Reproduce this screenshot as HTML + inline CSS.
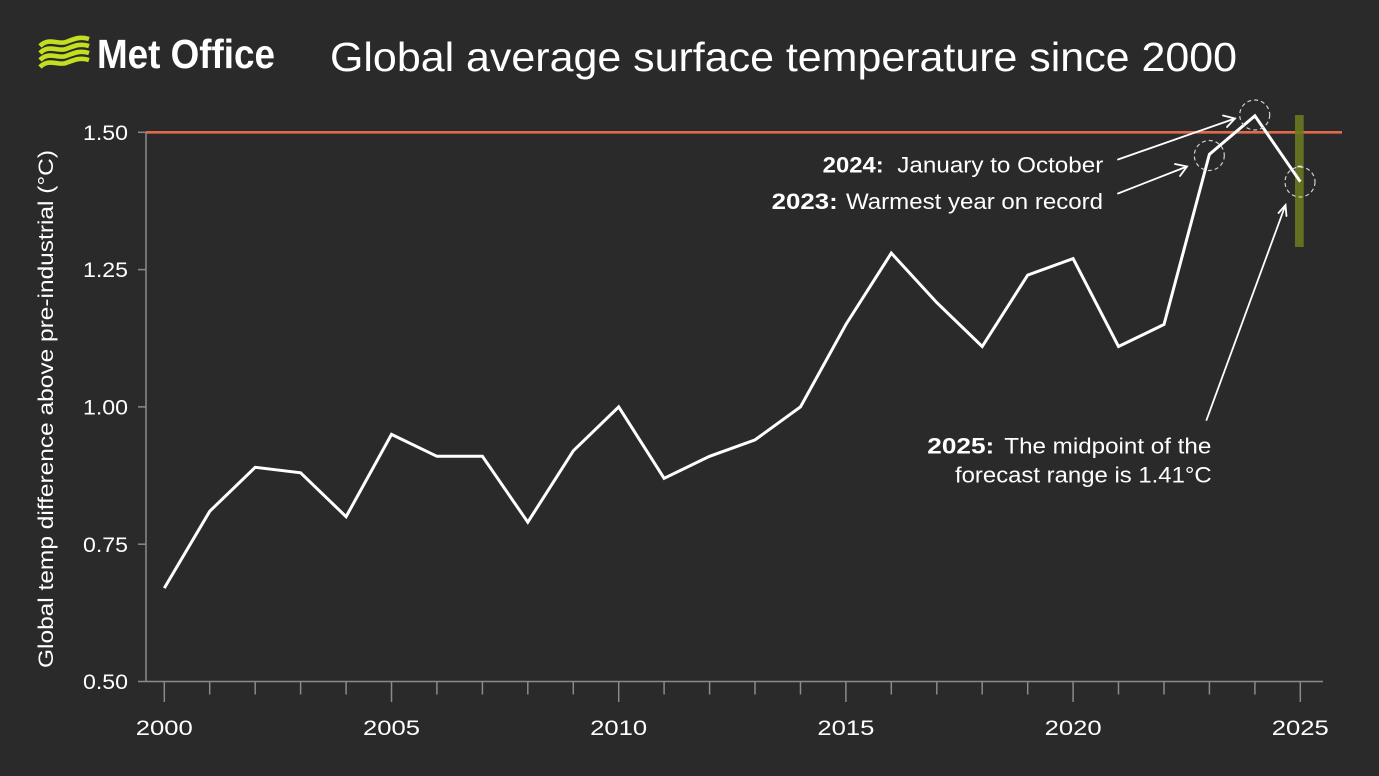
<!DOCTYPE html>
<html><head><meta charset="utf-8"><style>
html,body{margin:0;padding:0;background:#2a2a2a;}
svg{display:block;}
text{font-family:"Liberation Sans","DejaVu Sans",sans-serif;fill:#ffffff;}
</style></head><body>
<svg width="1379" height="776" viewBox="0 0 1379 776" xmlns="http://www.w3.org/2000/svg">
<rect x="0" y="0" width="1379" height="776" fill="#2a2a2a"/>

<!-- Logo icon -->
<g fill="none" stroke="#c4df1f" stroke-width="4.6" stroke-linecap="butt">
<path d="M40,46 C49,37 58,45 66,42 C74,39 80,36 89,39"/>
<path d="M40,53 C49,44 58,52 66,49 C74,46 80,43 89,46"/>
<path d="M40,60 C49,51 58,59 66,56 C74,53 80,50 89,53"/>
<path d="M40,67 C49,58 58,66 66,63 C74,60 80,57 89,60"/>
</g>
<text x="97" y="68" font-size="41" font-weight="bold" textLength="178" lengthAdjust="spacingAndGlyphs">Met Office</text>

<!-- Title -->
<text x="330" y="71" font-size="41" textLength="907" lengthAdjust="spacingAndGlyphs" fill="#ececec">Global average surface temperature since 2000</text>

<!-- Y axis label -->
<text transform="translate(53,409) rotate(-90)" text-anchor="middle" font-size="21" textLength="518" lengthAdjust="spacingAndGlyphs" fill="#e8e8e8">Global temp difference above pre-industrial (°C)</text>

<!-- Axes -->
<g stroke="#8a8a8a" stroke-width="1.5">
<line x1="146" y1="132" x2="146" y2="681.5"/>
<line x1="138" y1="681.5" x2="1323" y2="681.5"/>
<line x1="138" y1="132.3" x2="146" y2="132.3"/>
<line x1="138" y1="269.6" x2="146" y2="269.6"/>
<line x1="138" y1="406.9" x2="146" y2="406.9"/>
<line x1="138" y1="544.2" x2="146" y2="544.2"/>
</g>
<g stroke="#8a8a8a" stroke-width="1.5">
<line x1="164.3" y1="681.5" x2="164.3" y2="702"/>
<line x1="209.7" y1="681.5" x2="209.7" y2="694.5"/>
<line x1="255.2" y1="681.5" x2="255.2" y2="694.5"/>
<line x1="300.6" y1="681.5" x2="300.6" y2="694.5"/>
<line x1="346.1" y1="681.5" x2="346.1" y2="694.5"/>
<line x1="391.5" y1="681.5" x2="391.5" y2="702"/>
<line x1="436.9" y1="681.5" x2="436.9" y2="694.5"/>
<line x1="482.4" y1="681.5" x2="482.4" y2="694.5"/>
<line x1="527.8" y1="681.5" x2="527.8" y2="694.5"/>
<line x1="573.3" y1="681.5" x2="573.3" y2="694.5"/>
<line x1="618.7" y1="681.5" x2="618.7" y2="702"/>
<line x1="664.1" y1="681.5" x2="664.1" y2="694.5"/>
<line x1="709.6" y1="681.5" x2="709.6" y2="694.5"/>
<line x1="755.0" y1="681.5" x2="755.0" y2="694.5"/>
<line x1="800.5" y1="681.5" x2="800.5" y2="694.5"/>
<line x1="845.9" y1="681.5" x2="845.9" y2="702"/>
<line x1="891.3" y1="681.5" x2="891.3" y2="694.5"/>
<line x1="936.8" y1="681.5" x2="936.8" y2="694.5"/>
<line x1="982.2" y1="681.5" x2="982.2" y2="694.5"/>
<line x1="1027.7" y1="681.5" x2="1027.7" y2="694.5"/>
<line x1="1073.1" y1="681.5" x2="1073.1" y2="702"/>
<line x1="1118.5" y1="681.5" x2="1118.5" y2="694.5"/>
<line x1="1164.0" y1="681.5" x2="1164.0" y2="694.5"/>
<line x1="1209.4" y1="681.5" x2="1209.4" y2="694.5"/>
<line x1="1254.9" y1="681.5" x2="1254.9" y2="694.5"/>
<line x1="1300.3" y1="681.5" x2="1300.3" y2="702"/>
</g>

<!-- Y tick labels -->
<g font-size="21" text-anchor="end" fill="#eeeeee">
<text x="128" y="140" textLength="45" lengthAdjust="spacingAndGlyphs">1.50</text>
<text x="128" y="277" textLength="45" lengthAdjust="spacingAndGlyphs">1.25</text>
<text x="128" y="414.5" textLength="45" lengthAdjust="spacingAndGlyphs">1.00</text>
<text x="128" y="552" textLength="45" lengthAdjust="spacingAndGlyphs">0.75</text>
<text x="128" y="689" textLength="45" lengthAdjust="spacingAndGlyphs">0.50</text>
</g>

<!-- X tick labels -->
<g font-size="21" text-anchor="middle" fill="#eeeeee">
<text x="164.3" y="735" textLength="57" lengthAdjust="spacingAndGlyphs">2000</text>
<text x="391.5" y="735" textLength="57" lengthAdjust="spacingAndGlyphs">2005</text>
<text x="618.7" y="735" textLength="57" lengthAdjust="spacingAndGlyphs">2010</text>
<text x="845.9" y="735" textLength="57" lengthAdjust="spacingAndGlyphs">2015</text>
<text x="1073.1" y="735" textLength="57" lengthAdjust="spacingAndGlyphs">2020</text>
<text x="1300.3" y="735" textLength="57" lengthAdjust="spacingAndGlyphs">2025</text>
</g>

<!-- 1.5 line -->
<line x1="146" y1="132.3" x2="1342" y2="132.3" stroke="#e06a4c" stroke-width="2.6"/>

<!-- forecast bar -->
<rect x="1295" y="115" width="8.7" height="132" fill="#6a7a1e" opacity="0.88"/>
<line x1="1297.5" y1="166.5" x2="1302" y2="166.5" stroke="#ffffff" stroke-width="1.5"/>

<!-- Data line -->
<polyline fill="none" stroke="#ffffff" stroke-width="3" stroke-linejoin="miter" points="164.3,588.1 209.7,511.3 255.2,467.3 300.6,472.8 346.1,516.7 391.5,434.4 436.9,456.3 482.4,456.3 527.8,522.2 573.3,450.8 618.7,406.9 664.1,478.3 709.6,456.3 755.0,439.9 800.5,406.9 845.9,324.5 891.3,253.1 936.8,302.6 982.2,346.5 1027.7,275.1 1073.1,258.6 1118.5,346.5 1164.0,324.5 1209.4,154.3 1254.9,115.8 1300.3,181.7"/>

<!-- dashed circles -->
<g fill="none" stroke="#cfcfcf" stroke-width="1.2" stroke-dasharray="4,3">
<circle cx="1254.7" cy="115" r="15"/>
<circle cx="1209.3" cy="155.5" r="15"/>
<circle cx="1300" cy="182" r="15"/>
</g>

<!-- arrows -->
<g fill="none" stroke="#ffffff" stroke-width="1.8" stroke-linecap="round">
<line x1="1118" y1="159.5" x2="1235" y2="118.5"/>
<polyline points="1223,115.5 1235,118.5 1227,127"/>
<line x1="1118" y1="193.5" x2="1187" y2="166.5"/>
<polyline points="1175,164 1187,166.5 1180,176"/>
<line x1="1206.5" y1="420" x2="1285.5" y2="205"/>
<polyline points="1278.5,213 1285.5,205 1286.5,216"/>
</g>

<!-- annotations -->
<g font-size="22" fill="#f2f2f2">
<text x="822.7" y="172.5" font-weight="bold" textLength="61" lengthAdjust="spacingAndGlyphs">2024:</text>
<text x="897.3" y="172.5" textLength="206" lengthAdjust="spacingAndGlyphs">January to October</text>
<text x="771.7" y="209" font-weight="bold" textLength="66" lengthAdjust="spacingAndGlyphs">2023:</text>
<text x="846" y="209" textLength="257" lengthAdjust="spacingAndGlyphs">Warmest year on record</text>
<text x="927.3" y="453.5" font-weight="bold" textLength="67" lengthAdjust="spacingAndGlyphs">2025:</text>
<text x="1004.3" y="453.5" textLength="207" lengthAdjust="spacingAndGlyphs">The midpoint of the</text>
<text x="955" y="482.5" textLength="256.7" lengthAdjust="spacingAndGlyphs">forecast range is 1.41°C</text>
</g>
</svg>
</body></html>
